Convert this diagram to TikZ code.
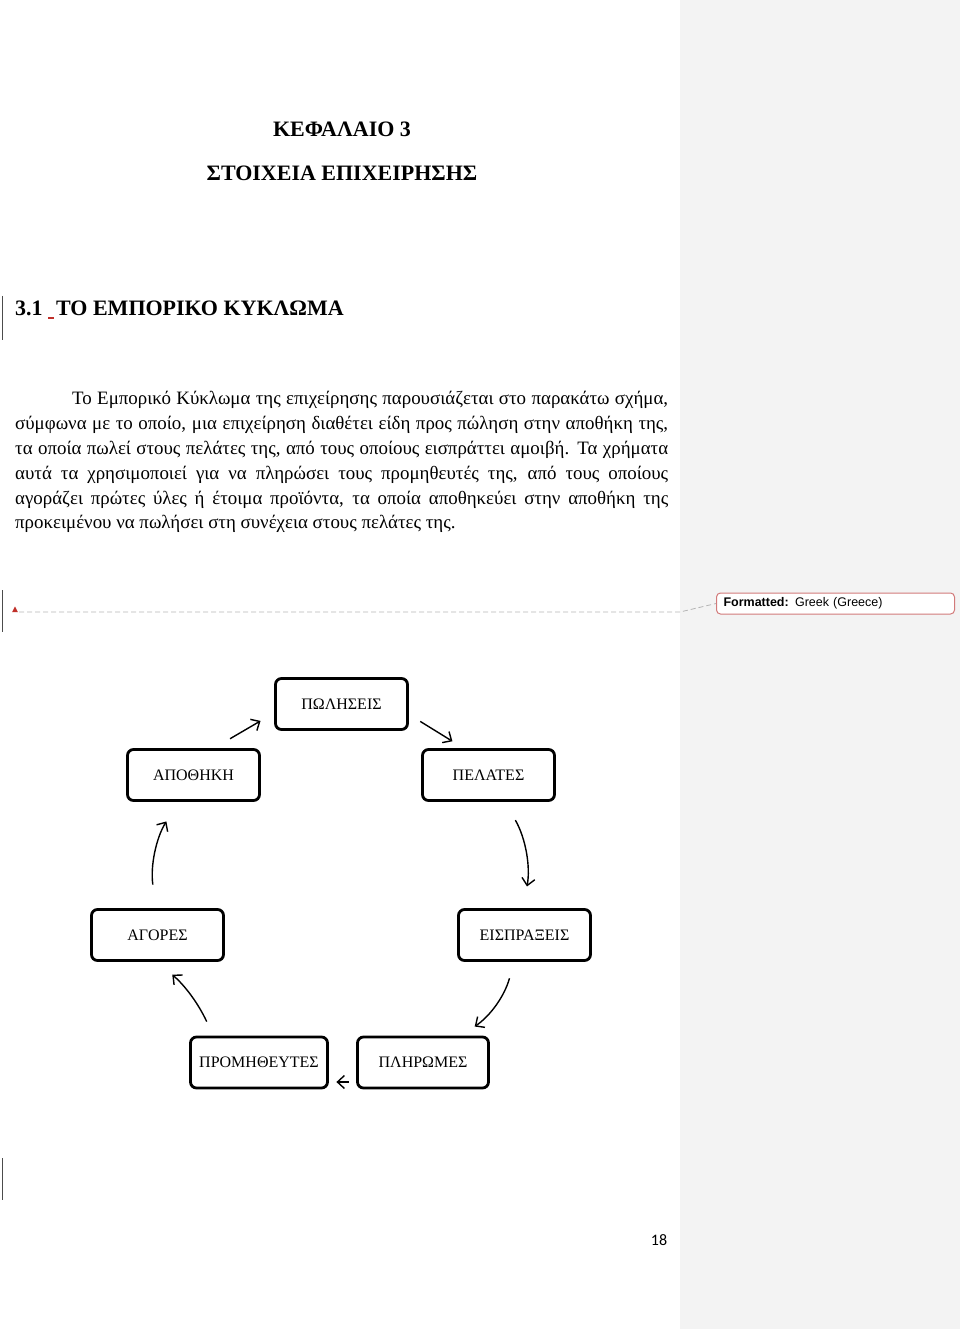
\documentclass[tikz,border=0pt]{standalone}
\usepackage{fontspec}
\setmainfont{Liberation Serif}
\newfontfamily\notefont{Liberation Sans}
\newfontfamily\pagefont{Carlito}
\usepackage{xcolor}
\usetikzlibrary{arrows.meta}

\definecolor{sidegray}{HTML}{F3F3F3}
\definecolor{markred}{HTML}{C0302A}
\definecolor{noteedge}{HTML}{D27A7A}
\definecolor{dashgray}{HTML}{B4B4B4}

\tikzset{
  stage/.style={draw, line width=2.8pt, rounded corners=6pt, minimum width=132pt,
    minimum height=51pt, inner sep=0pt, font=\fontsize{16}{18}\selectfont},
  flow/.style={line width=1.4pt, -{Straight Barb[length=7pt,width=13pt]}},
  heading/.style={font=\fontsize{22}{26}\bfseries\selectfont, inner sep=0pt},
  bodyline/.style={anchor=base west, inner sep=0pt, font=\fontsize{18.9}{25}\selectfont},
  changebar/.style={line width=0.9pt, black!70},
}

\begin{document}
\begin{tikzpicture}[x=1pt, y=-1pt]
\useasboundingbox (0,0) rectangle (960,1329);
\fill[sidegray] (680,0) rectangle (960,1329);

% headings
\node[heading, anchor=base] (chapter) at (342,137) {ΚΕΦΑΛΑΙΟ 3};
\node[heading, anchor=base] (chaptitle) at (342,181) {ΣΤΟΙΧΕΙΑ ΕΠΙΧΕΙΡΗΣΗΣ};
\node[heading, anchor=base west] (section) at (15,316)
  {3.1 \textcolor{markred}{\rule[-3pt]{6pt}{2.2pt}}\hspace{2pt}ΤΟ ΕΜΠΟΡΙΚΟ ΚΥΚΛΩΜΑ};

% paragraph
\node[bodyline] (line1) at (72,404) {\makebox[596pt][s]{Το Εμπορικό Κύκλωμα της επιχείρησης παρουσιάζεται στο παρακάτω σχήμα,}};
\node[bodyline] (line2) at (15,429) {\makebox[653pt][s]{σύμφωνα με το οποίο, μια επιχείρηση διαθέτει είδη προς πώληση στην αποθήκη της,}};
\node[bodyline] (line3) at (15,454) {\makebox[653pt][s]{τα οποία πωλεί στους πελάτες της, από τους οποίους εισπράττει αμοιβή. Τα χρήματα}};
\node[bodyline] (line4) at (15,479) {\makebox[653pt][s]{αυτά τα χρησιμοποιεί για να πληρώσει τους προμηθευτές της, από τους οποίους}};
\node[bodyline] (line5) at (15,504) {\makebox[653pt][s]{αγοράζει πρώτες ύλες ή έτοιμα προϊόντα, τα οποία αποθηκεύει στην αποθήκη της}};
\node[bodyline] (line6) at (15,528) {προκειμένου να πωλήσει στη συνέχεια στους πελάτες της.};

% change bars and comment marker
\draw[changebar] (2,296) -- (2,340);
\draw[changebar] (2,590) -- (2,632);
\draw[changebar] (2,1158) -- (2,1200);
\node[draw=noteedge, fill=white, rounded corners=4pt, line width=1pt, anchor=west,
  text width=224pt, align=left, inner xsep=7pt, minimum height=21pt,
  font=\notefont\fontsize{12.5}{14}\selectfont] (note) at (716,603.5)
  {\textbf{Formatted:} Greek (Greece)};
\coordinate (mark) at (15,612);
\coordinate (knee) at (680,612);
\fill[markred] (mark) ++(-2.8,0) -- ++(5.6,0) -- ++(-2.8,-5.5) -- cycle;
\draw[dashgray, line width=0.8pt, dash pattern=on 5pt off 3pt] ([xshift=4pt]mark) -- (knee) -- (note.west);

% cycle
\node[stage] (poliseis) at (341.5,704) {ΠΩΛΗΣΕΙΣ};
\node[stage] (apothiki) at (193.5,775) {ΑΠΟΘΗΚΗ};
\node[stage] (pelates) at (488.5,775) {ΠΕΛΑΤΕΣ};
\node[stage] (agores) at (157.5,935) {ΑΓΟΡΕΣ};
\node[stage] (eispraxeis) at (524.5,935) {ΕΙΣΠΡΑΞΕΙΣ};
\node[stage, minimum width=137pt] (promitheutes) at (259,1062.5) {ΠΡΟΜΗΘΕΥΤΕΣ};
\node[stage, minimum width=131pt] (plirwmes) at (423,1062.5) {ΠΛΗΡΩΜΕΣ};

\draw[flow, shorten <=18.6pt, shorten >=15.7pt] ([xshift=20.5pt]apothiki.north) -- ([yshift=-9pt]poliseis.west);
\draw[flow, shorten <=13.3pt, shorten >=13pt] ([yshift=-10.4pt]poliseis.east) -- ([xshift=-25pt]pelates.north);
\draw[flow, shorten <=21pt, shorten >=22pt] ([xshift=16.5pt]pelates.south) to[bend left=20] ([xshift=-1.5pt]eispraxeis.north);
\draw[flow, shorten <=17pt, shorten >=16pt] ([xshift=-10.5pt]eispraxeis.south) to[bend left=20] ([xshift=38.5pt]plirwmes.north);
\draw[flow, shorten <=7.5pt, shorten >=7.5pt] ([yshift=-19.5pt]plirwmes.west) -- ([yshift=-19.5pt]promitheutes.east);
\draw[flow, shorten <=15.5pt, shorten >=19.5pt] ([xshift=-45.7pt]promitheutes.north) to[bend right=12] ([xshift=0pt]agores.south);
\draw[flow, shorten <=23.8pt, shorten >=23pt] ([xshift=-1.3pt]agores.north) to[bend left=20] ([xshift=-15pt]apothiki.south);

\node[font=\pagefont\fontsize{16}{18}\selectfont] (pagenum) at (659,1240) {18};
\end{tikzpicture}
\end{document}
